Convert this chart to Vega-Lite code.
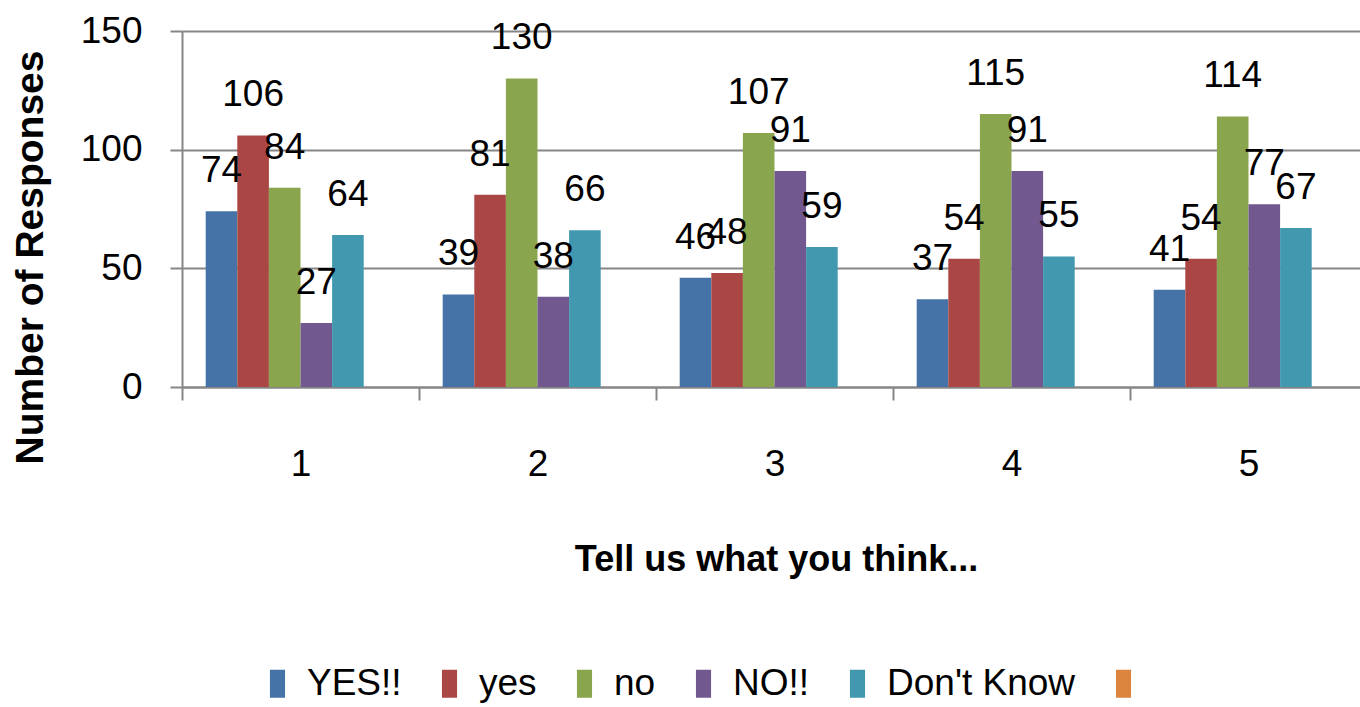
{
  "$schema": "https://vega.github.io/schema/vega-lite/v6.json",
  "width": 1178,
  "height": 356,
  "autosize": {"type": "none"},
  "padding": {"left": 182, "top": 31, "right": 0, "bottom": 320},
  "background": "white",
  "config": {"view": {"stroke": null}, "font": "Liberation Sans"},
  "data": {
    "values": [
      {"cat": "1", "series": "YES!!", "value": 74},
      {"cat": "1", "series": "yes", "value": 106},
      {"cat": "1", "series": "no", "value": 84},
      {"cat": "1", "series": "NO!!", "value": 27},
      {"cat": "1", "series": "Don't Know", "value": 64},
      {"cat": "2", "series": "YES!!", "value": 39},
      {"cat": "2", "series": "yes", "value": 81},
      {"cat": "2", "series": "no", "value": 130},
      {"cat": "2", "series": "NO!!", "value": 38},
      {"cat": "2", "series": "Don't Know", "value": 66},
      {"cat": "3", "series": "YES!!", "value": 46},
      {"cat": "3", "series": "yes", "value": 48},
      {"cat": "3", "series": "no", "value": 107},
      {"cat": "3", "series": "NO!!", "value": 91},
      {"cat": "3", "series": "Don't Know", "value": 59},
      {"cat": "4", "series": "YES!!", "value": 37},
      {"cat": "4", "series": "yes", "value": 54},
      {"cat": "4", "series": "no", "value": 115},
      {"cat": "4", "series": "NO!!", "value": 91},
      {"cat": "4", "series": "Don't Know", "value": 55},
      {"cat": "5", "series": "YES!!", "value": 41},
      {"cat": "5", "series": "yes", "value": 54},
      {"cat": "5", "series": "no", "value": 114},
      {"cat": "5", "series": "NO!!", "value": 77},
      {"cat": "5", "series": "Don't Know", "value": 67}
    ]
  },
  "encoding": {
    "x": {
      "field": "cat",
      "type": "nominal",
      "scale": {"range": [0, 1185], "paddingInner": 0, "paddingOuter": 0},
      "axis": {
        "title": "Tell us what  you think...",
        "titleFontSize": 36,
        "titleFontWeight": "bold",
        "titleColor": "black",
        "titleX": 594,
        "titleY": 183,
        "titleAlign": "center",
        "titleBaseline": "alphabetic",
        "labelAngle": 0,
        "labelFontSize": 37,
        "labelColor": "black",
        "labelPadding": 46,
        "tickBand": "extent",
        "tickSize": 13,
        "tickColor": "#868686",
        "tickWidth": 2,
        "domainColor": "#868686",
        "domainWidth": 2,
        "grid": false
      }
    },
    "xOffset": {
      "field": "series",
      "type": "nominal",
      "scale": {"domain": ["YES!!", "yes", "no", "NO!!", "Don't Know", " "], "paddingInner": 0, "paddingOuter": 0.75}
    },
    "y": {
      "field": "value",
      "type": "quantitative",
      "scale": {"domain": [0, 150]},
      "axis": {
        "title": "Number of Responses",
        "titleFontSize": 39,
        "titleFontWeight": "bold",
        "titleColor": "black",
        "titleAngle": -90,
        "titleX": -140,
        "titleY": 226,
        "titleAlign": "center",
        "titleBaseline": "alphabetic",
        "values": [0, 50, 100, 150],
        "labelFontSize": 37,
        "labelColor": "black",
        "labelPadding": 28,
        "tickSize": 12,
        "tickColor": "#868686",
        "tickWidth": 2,
        "domainColor": "#868686",
        "domainWidth": 2,
        "grid": true,
        "gridColor": "#868686",
        "gridWidth": 2
      }
    }
  },
  "layer": [
    {
      "mark": {"type": "bar"},
      "encoding": {
        "color": {
          "field": "series",
          "type": "nominal",
          "scale": {
            "domain": ["YES!!", "yes", "no", "NO!!", "Don't Know", " "],
            "range": ["#4572A7", "#AA4643", "#89A54E", "#71588F", "#4198AF", "#DB843D"]
          },
          "legend": {
            "orient": "none",
            "legendX": 77,
            "legendY": 634,
            "direction": "horizontal",
            "columns": 6,
            "title": null,
            "labelFontSize": 37,
            "labelColor": "black",
            "labelLimit": 500,
            "symbolType": "M-0.54,-1H0.54V1H-0.54Z",
            "symbolSize": 784,
            "symbolStrokeWidth": 0,
            "symbolOpacity": 1,
            "labelOffset": 11,
            "columnPadding": 29
          }
        }
      }
    },
    {
      "mark": {"type": "text", "baseline": "alphabetic", "dy": -29, "fontSize": 37, "color": "black"},
      "encoding": {"text": {"field": "value", "type": "quantitative"}}
    }
  ]
}
